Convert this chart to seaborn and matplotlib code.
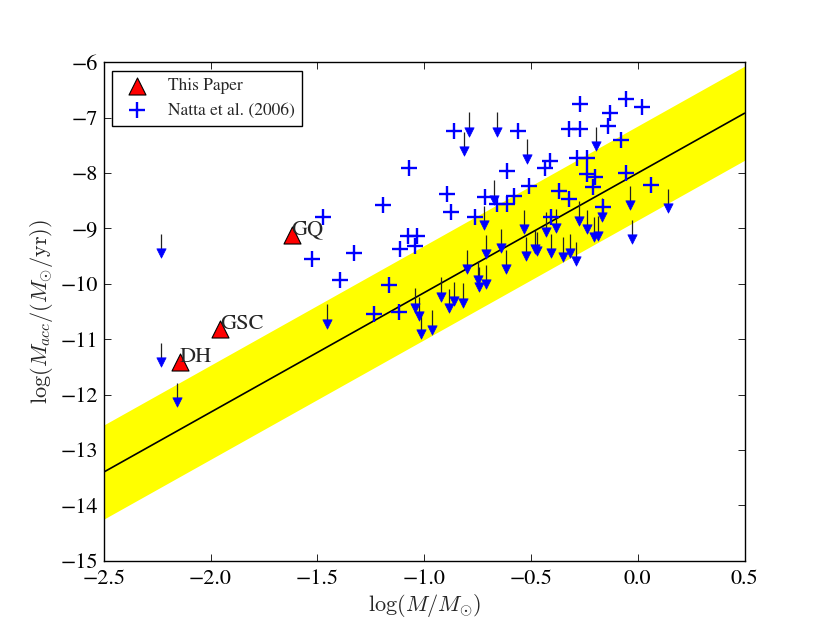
import numpy as np
import matplotlib
matplotlib.use('Agg')
import matplotlib.pyplot as plt
import seaborn as sns

# ---- data: this paper ----
paper_names = ['GQ', 'GSC', 'DH']
paper_logm = [-1.620, -1.956, -2.144]
paper_logmacc = [-9.11, -10.81, -11.42]

# ---- data: Natta et al. (2006) detections ----
natta_logm = [-1.475, -1.527, -1.327, -1.396, -1.193, -1.165, -1.237, -1.116,
              -1.073, -1.075, -1.034, -1.042, -1.115, -0.862, -0.561, -0.323,
              -0.268, -0.271, -0.057, 0.021, -0.130, -0.139, -0.079, -0.282,
              -0.238, -0.409, -0.433, -0.612, -0.239, -0.200, -0.057, -0.209,
              0.062, -0.511, -0.370, -0.321, -0.893, -0.715, -0.581, -0.661,
              -0.614, -0.874, -0.762, -0.406, -0.161]
natta_logmacc = [-8.79, -9.56, -9.44, -9.94, -8.58, -10.02, -10.55, -10.51,
                 -7.90, -9.13, -9.13, -9.32, -9.38, -7.24, -7.245, -7.20,
                 -7.20, -6.75, -6.67, -6.81, -6.91, -7.15, -7.40, -7.72,
                 -7.73, -7.78, -7.91, -7.96, -8.02, -8.07, -7.99, -8.26,
                 -8.21, -8.23, -8.33, -8.46, -8.37, -8.43, -8.41, -8.55,
                 -8.55, -8.71, -8.79, -8.79, -8.61]

# ---- data: Natta et al. (2006) upper limits ----
ul_logm = [-2.233, -2.233, -2.159, -1.456, -0.792, -0.815, -0.660, -0.520,
           -0.197, -0.672, -0.722, -0.532, -0.430, -0.381, -0.277, -0.236,
           -0.166, -0.037, 0.143, -0.206, -0.187, -0.027, -0.712, -0.640,
           -0.615, -0.522, -0.479, -0.470, -0.408, -0.350, -0.318, -0.288,
           -0.800, -0.750, -0.742, -0.712, -0.920, -1.042, -1.025, -0.882,
           -0.862, -0.820, -1.015, -0.964]
ul_logmacc = [-9.10, -11.06, -11.79, -10.37, -6.90, -7.26, -6.90, -7.39,
              -7.17, -8.13, -8.59, -8.66, -8.71, -8.65, -8.51, -8.66,
              -8.45, -8.23, -8.29, -8.80, -8.78, -8.84, -9.12, -9.01,
              -9.39, -9.15, -9.02, -9.06, -9.10, -9.16, -9.10, -9.24,
              -9.39, -9.59, -9.70, -9.66, -9.88, -10.08, -10.24, -10.09,
              -9.96, -9.99, -10.55, -10.48]

# ---- relation and band ----
fit_slope = 2.16
fit_intercept = -8.0
fit_halfwidth = 0.85
fit_range = [-2.5, 0.5]
arrow_length = 0.35

x_ticks = [-2.5, -2.0, -1.5, -1.0, -0.5, 0.0, 0.5]
y_ticks = [-15, -14, -13, -12, -11, -10, -9, -8, -7, -6]

sns.set_style('ticks')
plt.rcParams['font.family'] = ['STIXGeneral', 'DejaVu Serif']
plt.rcParams['mathtext.fontset'] = 'cm'
plt.rcParams['xtick.direction'] = 'in'
plt.rcParams['ytick.direction'] = 'in'
plt.rcParams['xtick.top'] = True
plt.rcParams['ytick.right'] = True
plt.rcParams['axes.unicode_minus'] = True

fig, ax = plt.subplots(figsize=(8.3, 6.23), dpi=100)
fig.subplots_adjust(left=0.125, right=0.897, bottom=0.1, top=0.9)

xs = np.array(fit_range)
ys = fit_slope * xs + fit_intercept
ax.fill_between(xs, ys - fit_halfwidth, ys + fit_halfwidth, color='yellow',
                lw=0, zorder=1)
sns.lineplot(x=xs, y=ys, color='black', lw=1.2, ax=ax, zorder=2)

ulx = np.array(ul_logm)
uly = np.array(ul_logmacc)
ax.vlines(ulx, uly - arrow_length, uly, colors='#222222', lw=0.9, zorder=3)
sns.scatterplot(x=ulx, y=uly - arrow_length, marker='v', s=45, color='blue',
                edgecolor='blue', linewidth=0.5, ax=ax, zorder=4, legend=False)

sns.scatterplot(x=paper_logm, y=paper_logmacc, marker='^', s=150, color='red',
                edgecolor='black', linewidth=0.8, ax=ax, zorder=6,
                label='This Paper')
sns.scatterplot(x=natta_logm, y=natta_logmacc, marker='+', s=130, color='blue',
                linewidth=1.7, ax=ax, zorder=5, label='Natta et al. (2006)')

for name, xv, yv in zip(paper_names, paper_logm, paper_logmacc):
    ax.text(xv, yv, name, fontsize=16, ha='left', va='baseline', zorder=7)

ax.set_xlim(-2.5, 0.5)
ax.set_ylim(-15, -6)
ax.set_xticks(x_ticks)
ax.set_yticks(y_ticks)
ax.tick_params(labelsize=16, length=5, width=0.6, colors='black')
ax.tick_params(axis='x', pad=6)
ax.tick_params(axis='y', pad=4)
for sp in ax.spines.values():
    sp.set_linewidth(1.0)
    sp.set_color('black')

ax.set_xlabel(r'$\log(M/M_{\odot})$', fontsize=16, labelpad=2)
ax.set_ylabel(r'$\log(M_{acc}/(M_{\odot}/\mathrm{yr}))$', fontsize=16, labelpad=4)

leg = ax.legend(loc='upper left', scatterpoints=1, fontsize=12.5, frameon=True,
                fancybox=False, edgecolor='black', framealpha=1,
                borderaxespad=0.5, handletextpad=0.8)
leg.get_frame().set_linewidth(1.0)

fig.savefig('out.png', dpi=100)
